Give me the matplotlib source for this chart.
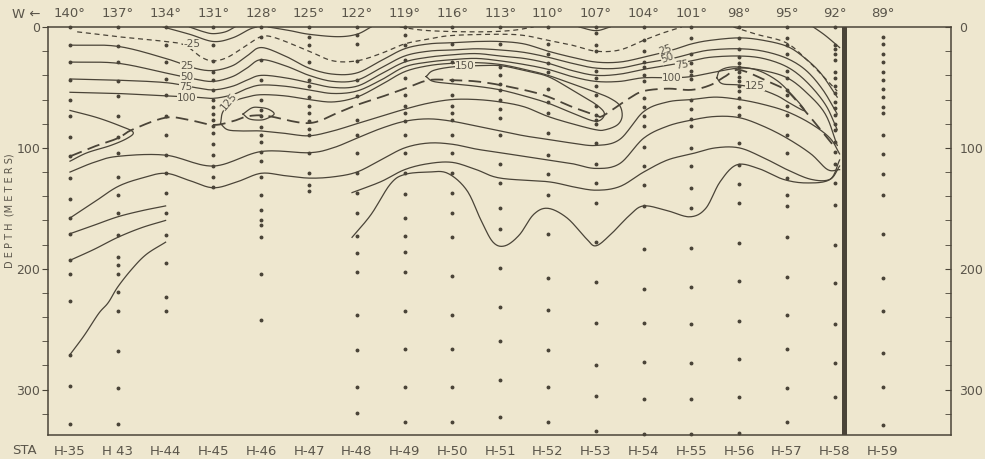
import numpy as np
import matplotlib
matplotlib.use("Agg")
import matplotlib.pyplot as plt

plt.rcParams['font.family'] = ['Liberation Sans Narrow', 'DejaVu Sans']

stations = ["H-35", "H 43", "H-44", "H-45", "H-46", "H-47", "H-48", "H-49", "H-50",
            "H-51", "H-52", "H-53", "H-54", "H-55", "H-56", "H-57", "H-58", "H-59"]
longitudes = ["140°", "137°", "134°", "131°", "128°", "125°", "122°", "119°", "116°",
              "113°", "110°", "107°", "104°", "101°", "98°", "95°", "92°", "89°"]

# sample depths (m) at each station
sample_depths = [
    [0, 15, 29, 44, 60, 74, 91, 107, 125, 142, 158, 171, 193, 204, 227, 271, 297, 328],
    [0, 16, 29, 45, 57, 74, 91, 104, 124, 139, 154, 172, 190, 197, 204, 219, 235, 268, 299, 328],
    [0, 15, 29, 43, 56, 74, 89, 106, 121, 137, 154, 172, 195, 223, 235],
    [0, 15, 28, 37, 44, 52, 60, 66, 72, 77, 82, 88, 97, 106, 115, 124, 132],
    [0, 8, 27, 44, 60, 69, 74, 83, 89, 95, 103, 111, 124, 139, 151, 160, 164, 174, 204, 242],
    [0, 8, 15, 29, 44, 49, 58, 65, 71, 78, 84, 89, 104, 121, 131, 136],
    [0, 7, 14, 28, 44, 57, 77, 89, 104, 121, 137, 154, 173, 187, 203, 238, 267, 298, 319],
    [0, 7, 15, 27, 42, 56, 65, 71, 78, 89, 104, 121, 138, 158, 173, 186, 203, 235, 266, 298, 327],
    [0, 14, 29, 44, 56, 65, 71, 77, 89, 104, 121, 137, 154, 174, 206, 238, 266, 298, 327],
    [0, 14, 33, 40, 47, 52, 60, 68, 75, 89, 113, 129, 150, 167, 199, 232, 260, 292, 323],
    [0, 14, 22, 30, 37, 51, 62, 71, 88, 106, 122, 139, 171, 208, 234, 267, 298, 327],
    [0, 5, 15, 20, 36, 42, 49, 56, 65, 73, 77, 80, 96, 113, 129, 146, 178, 211, 245, 280, 305, 334],
    [0, 11, 20, 29, 33, 40, 45, 59, 66, 74, 82, 99, 115, 131, 148, 184, 217, 245, 277, 308, 337],
    [0, 9, 22, 30, 36, 40, 43, 60, 68, 76, 82, 100, 115, 133, 150, 183, 215, 246, 278, 308, 337],
    [0, 9, 18, 25, 30, 33, 37, 41, 45, 49, 53, 59, 66, 73, 96, 114, 130, 146, 179, 210, 243, 275, 306, 336],
    [0, 9, 15, 22, 36, 42, 52, 56, 65, 73, 89, 104, 125, 139, 148, 174, 207, 238, 266, 299, 327],
    [0, 15, 18, 22, 27, 37, 42, 49, 55, 62, 67, 73, 80, 85, 95, 103, 113, 129, 147, 180, 212, 246, 278, 306],
    [8, 14, 22, 29, 37, 44, 51, 58, 66, 71, 89, 105, 122, 139, 171, 208, 235, 270, 298, 329],
]

# isotach lines as (station position, depth m)
iso_25 = [(0, 15), (1, 16), (2, 26), (2.6, 34), (3, 36), (3.4, 32), (3.7, 24), (4, 17), (4.5, 24), (5, 34),
          (5.5, 39), (6, 38), (6.5, 28), (7, 18), (7.5, 14), (8, 13), (8.5, 12), (9, 12), (9.5, 14), (10, 20),
          (10.5, 25), (11, 29), (11.5, 29), (12, 25), (12.6, 19), (13, 14), (13.4, 11), (14, 9), (14.5, 11),
          (15, 16), (15.35, 25), (15.7, 38), (16.05, 58)]
iso_50 = [(0, 29), (1, 30), (2, 38), (2.6, 43), (3, 45), (3.4, 41), (3.7, 34), (4, 27), (4.5, 32), (5, 40),
          (5.5, 45), (6, 44), (6.5, 34), (7, 24), (7.5, 20), (8, 19), (8.5, 18), (9, 19), (9.5, 21), (10, 25),
          (10.5, 30), (11, 34), (11.5, 34), (12, 30), (12.6, 26), (13, 22), (13.4, 19), (14, 18), (14.5, 20),
          (15, 26), (15.4, 36), (15.75, 52), (16.05, 72)]
iso_75 = [(0, 43), (1, 44), (2, 46), (2.6, 50), (3, 52), (3.4, 49), (3.7, 44), (4, 40), (4.5, 42), (5, 46),
          (5.5, 50), (6, 49), (6.5, 39), (7, 29), (7.5, 25), (8, 23), (8.5, 22), (9, 24), (9.5, 26), (10, 30),
          (10.5, 36), (11, 40), (11.5, 39), (12, 35), (12.6, 31), (13, 28), (13.4, 25), (14, 24), (14.5, 26),
          (15, 33), (15.4, 45), (15.8, 64), (16.05, 85)]
iso_100 = [(0, 54), (1, 55), (2, 57), (2.6, 58), (3, 59), (3.4, 56), (3.7, 51), (4, 48), (4.5, 49), (5, 52),
           (5.5, 55), (6, 53), (6.5, 44), (7, 33), (7.5, 29), (8, 27), (8.5, 26), (9, 28), (9.5, 31), (10, 35),
           (10.5, 41), (11, 45), (11.5, 45), (12, 42), (12.6, 42), (13, 41), (13.4, 38), (14, 34), (14.5, 36),
           (15, 42), (15.4, 54), (15.8, 72), (16.05, 98)]
iso_125_west = [(0, 69), (0.57, 75), (1.06, 82), (1.32, 87), (1.2, 92), (0.85, 98), (0.36, 104), (0, 111)]
iso_125_mid = [(3.15, 80), (3.2, 70), (3.4, 62), (3.7, 58), (4, 56), (4.5, 57), (5, 60), (5.5, 62), (6, 58),
               (6.5, 48), (7, 37), (7.5, 32), (8, 30), (8.5, 29.5), (9, 31), (9.5, 35), (10, 40), (10.5, 47),
               (11, 54), (11.3, 59), (11.5, 65), (11.55, 74), (11.45, 81), (11.2, 85), (11, 85), (10.5, 80),
               (10, 74), (9.5, 66), (9, 62), (8.5, 60), (8, 60), (7.5, 63), (7, 68), (6.5, 74), (6, 80),
               (5.5, 86), (5, 90), (4.5, 88), (4, 86), (3.6, 86), (3.3, 85), (3.15, 80)]
iso_125_east = [(13.53, 42), (13.6, 36), (13.88, 33), (14.36, 35.5), (14.78, 44), (15.1, 56), (15.37, 69),
                (15.1, 64), (14.8, 57), (14.4, 51), (14, 48), (13.65, 47), (13.53, 42)]
iso_150_mid = [(7.45, 41), (7.6, 36), (8, 33), (8.5, 32), (9, 32), (9.5, 36), (10, 41), (10.5, 52), (11, 64),
               (11.18, 72), (11.0, 78), (10.5, 71), (10, 63), (9.5, 57), (9, 52), (8.5, 49), (8, 47),
               (7.6, 45), (7.45, 41)]
iso_150_46 = [(3.62, 72), (3.8, 67), (3.95, 66.5), (4.15, 68), (4.27, 72), (4.1, 76), (3.95, 77),
              (3.75, 76), (3.62, 72)]
low_1 = [(0, 120), (0.5, 112), (1, 107), (2, 106), (3, 115), (4, 103), (5, 104), (5.5, 100), (6, 92),
         (6.5, 84), (7, 78), (7.5, 76), (8, 78), (8.5, 82), (9, 86), (9.5, 90), (10, 93), (10.5, 96), (11, 98),
         (11.5, 93), (12, 70), (12.5, 62), (13, 60), (13.5, 58), (14, 60), (14.5, 64), (15, 70), (15.5, 80),
         (15.9, 92), (16.1, 105)]
low_2 = [(0, 158), (0.5, 145), (1, 132), (1.5, 125), (2, 121), (2.5, 127), (3, 133), (3.5, 128), (4, 121),
         (4.5, 123), (5, 125), (5.5, 124), (6, 120), (6.5, 110), (7, 100), (7.5, 96), (8, 97), (8.5, 101),
         (9, 104), (9.5, 107), (10, 110), (10.5, 113), (11, 117), (11.5, 113), (12, 92), (12.5, 82), (13, 77),
         (13.5, 74), (14, 75), (14.5, 82), (15, 92), (15.5, 105), (15.85, 118), (16.1, 118)]
low_3 = [(0, 171), (0.5, 164), (1, 157), (1.5, 152), (2, 148)]
low_4 = [(0, 193), (0.5, 184), (1, 174), (1.5, 166), (2, 160)]
low_5 = [(0, 271), (0.3, 255), (0.6, 237), (0.8, 228), (1.0, 215), (1.3, 200), (1.6, 188), (2, 178)]
low_6 = [(5.9, 137), (6.5, 128), (7, 118), (7.5, 113), (8, 112), (8.5, 118), (9, 125), (10, 128),
         (10.5, 132), (11, 135), (11.5, 132), (12, 120), (12.5, 110), (13, 105), (13.5, 100), (14, 100),
         (14.5, 108), (15, 118), (15.5, 126), (15.9, 126), (16.1, 115)]
low_7 = [(5.9, 174), (6.3, 155), (6.7, 130), (7, 122), (7.5, 120), (7.9, 121), (8.3, 135), (8.6, 160),
         (8.85, 178), (9.1, 181), (9.4, 172), (9.7, 155), (10, 150), (10.4, 158), (10.8, 175), (11, 181),
         (11.3, 172), (11.7, 156), (12, 148), (12.5, 152), (12.97, 157), (13.3, 150), (13.6, 128),
         (13.95, 114), (14.4, 117), (14.92, 126), (15.41, 129), (15.9, 126), (16.1, 110)]
top_bowls = [
    [(2.5, 0), (2.8, 4), (3.0, 5.5), (3.25, 4), (3.45, 0)],
    [(1.95, 0), (2.5, 6), (3.0, 12), (3.4, 9), (3.75, 2), (3.9, 0)],
    [(4.15, 0), (4.6, 3), (5.0, 6), (5.6, 8), (6.0, 6), (6.3, 0)],
    [(10.65, 0), (11.0, 3), (11.3, 0)],
    [(15.55, 0), (15.8, 7), (16.1, 17)],
]
# zero lines (dashed)
zero_west = [(0.15, 4), (1, 8), (2, 12), (2.4, 15), (2.75, 25), (3, 28), (3.3, 25), (3.7, 15), (4, 8),
             (4.3, 9), (5, 20), (5.5, 28), (6, 28), (6.5, 22), (7, 14), (7.5, 10), (8, 7), (9, 6), (9.5, 7),
             (10, 11), (10.5, 15), (11, 20), (11.5, 19), (12, 11), (12.4, 5), (12.8, 0)]
zero_mid = [(6.9, 0), (7.5, 3), (8.5, 4), (9.2, 3), (9.7, 0)]
zero_east = [(13.88, 0), (14.36, 6), (14.98, 13), (15.41, 27), (15.76, 41), (16.05, 53)]
# velocity core (long dashes)
core = [(0, 107), (0.5, 99), (1.0, 92), (1.3, 85), (2, 75), (2.5, 77), (3, 81), (3.4, 78), (3.7, 74), (4, 73),
        (4.2, 74), (5, 79.5), (5.6, 71), (6, 64.5), (6.5, 58), (7, 51), (7.5, 44), (8, 44), (8.5, 45), (9, 48),
        (9.6, 53), (10, 57.6), (10.5, 66), (11, 73), (11.12, 74), (11.4, 67), (11.7, 59), (12, 53), (12.5, 51),
        (13, 52), (13.4, 48), (13.7, 41), (14, 35.5), (14.6, 45), (15, 53), (15.3, 66), (15.6, 80), (15.97, 98)]

solid_lines = [iso_25, iso_50, iso_75, iso_100, iso_125_west, iso_125_mid, iso_125_east, iso_150_mid,
               iso_150_46, low_1, low_2, low_3, low_4, low_5, low_6, low_7] + top_bowls
dashed_lines = [zero_west, zero_mid, zero_east]

labels = [("-25", 2.55, 14, 0), ("25", 2.45, 32, 0), ("50", 2.45, 41.6, 0), ("75", 2.42, 50, 0),
          ("100", 2.45, 58.5, 0), ("125", 3.33, 62, 50), ("150", 8.26, 32, 0), ("25", 12.45, 19, 20),
          ("50", 12.5, 26, 20), ("75", 12.8, 31.4, 10), ("100", 12.59, 42, 0), ("125", 14.33, 48.5, 0)]


def smooth(pts, n=14):
    p = np.asarray(pts, float)
    ext = np.vstack([2 * p[0] - p[1], p, 2 * p[-1] - p[-2]])
    out = []
    t = np.linspace(0, 1, n, endpoint=False)[:, None]
    for i in range(1, len(ext) - 2):
        p0, p1, p2, p3 = ext[i - 1], ext[i], ext[i + 1], ext[i + 2]
        out.append(0.5 * (2 * p1 + (-p0 + p2) * t + (2 * p0 - 5 * p1 + 4 * p2 - p3) * t ** 2
                          + (-p0 + 3 * p1 - 3 * p2 + p3) * t ** 3))
    out.append(p[-1:])
    return np.vstack(out)


bg = "#eee7cf"
ink = "#4a4438"
txt = "#5a554a"

fig = plt.figure(figsize=(9.85, 4.59), dpi=100, facecolor=bg)
ax = fig.add_axes([48 / 985, 24 / 459, 903 / 985, 408 / 459], facecolor=bg)

for i, deps in enumerate(sample_depths):
    ax.plot([i] * len(deps), deps, ls="none", marker="o", ms=1.8, color=ink, clip_on=False, zorder=3)

for line in solid_lines:
    c = smooth(line)
    ax.plot(c[:, 0], c[:, 1], color=ink, lw=0.9, zorder=2)
for line in dashed_lines:
    c = smooth(line)
    ax.plot(c[:, 0], c[:, 1], color=ink, lw=0.9, dashes=(4, 3), zorder=2)
c = smooth(core)
ax.plot(c[:, 0], c[:, 1], color=ink, lw=1.3, dashes=(7, 3.5), zorder=2)

for s, x, y, r in labels:
    ax.text(x, y, s, fontsize=7.5, color=txt, ha="center", va="center", rotation=r, zorder=4,
            bbox=dict(fc=bg, ec="none", pad=0.05))

ax.axvline(16.2, color=ink, lw=3.6, zorder=5)

ax.set_xlim(-0.46, 18.43)
ax.set_ylim(337.5, 0)
for sp in ax.spines.values():
    sp.set_color(ink)
    sp.set_linewidth(1.1)

ax.set_xticks(range(len(stations)))
ax.set_xticklabels(stations, fontsize=9.5, color=txt)
ax.tick_params(axis="x", length=0, pad=7)
top = ax.secondary_xaxis("top")
top.set_xticks(range(len(longitudes)))
top.set_xticklabels(longitudes, fontsize=9.5, color=txt)
top.tick_params(length=0, pad=5)
top.spines["top"].set_visible(False)

ax.set_yticks([0, 100, 200, 300])
ax.set_yticklabels(["0", "100", "200", "300"], fontsize=9, color=txt)
ax.set_yticks(np.arange(0, 337, 20), minor=True)
ax.tick_params(axis="y", which="both", length=4, color=ink, direction="out", pad=1.5)
right = ax.secondary_yaxis("right")
right.set_yticks([0, 100, 200, 300])
right.set_yticklabels(["0", "100", "200", "300"], fontsize=9, color=txt)
right.set_yticks(np.arange(0, 337, 20), minor=True)
right.tick_params(which="both", length=4, color=ink, direction="in", pad=6)
right.spines["right"].set_visible(False)

ax.text(-0.012, -0.037, "STA", transform=ax.transAxes, fontsize=9.5, color=txt, ha="right", va="center")
ax.text(-0.008, 1.03, "W ←", transform=ax.transAxes, fontsize=9.5, color=txt, ha="right", va="center")
fig.text(10 / 985, 1 - 211 / 459, "D E P T H  (M E T E R S)", rotation=90, fontsize=7,
         color=txt, ha="center", va="center")

fig.savefig("out.png", dpi=100, facecolor=bg)
